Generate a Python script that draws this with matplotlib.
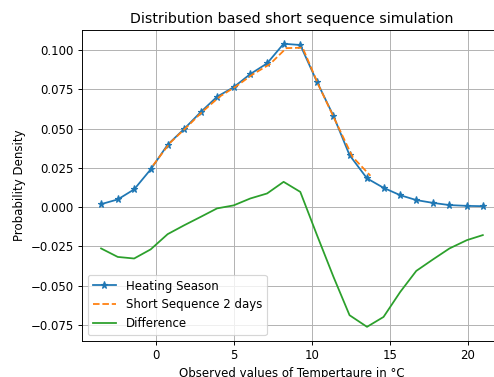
import matplotlib
matplotlib.use("Agg")
import matplotlib.pyplot as plt

# temperaturas observadas (grados C)
temp = [-3.53, -2.46, -1.41, -0.35, 0.74, 1.81, 2.86, 3.91, 4.97, 6.04, 7.12, 8.18,
        9.25, 10.32, 11.38, 12.41, 13.53, 14.59, 15.66, 16.69, 17.76, 18.82, 19.94, 20.96]
heating = [0.0019, 0.0049, 0.0113, 0.0240, 0.0397, 0.0499, 0.0605, 0.0703, 0.0763, 0.0847,
           0.0915, 0.1040, 0.1032, 0.0798, 0.0580, 0.0331, 0.0183, 0.0123, 0.0076, 0.0045,
           0.0027, 0.0013, 0.0008, 0.0006]
difference = [-0.0263, -0.0317, -0.0327, -0.0269, -0.0172, -0.0115, -0.0062, -0.0008, 0.0011,
              0.0055, 0.0087, 0.0161, 0.0097, -0.0178, -0.0444, -0.0688, -0.0762, -0.0699,
              -0.0540, -0.0406, -0.0333, -0.0263, -0.0210, -0.0178]

# secuencia corta de 2 dias
temp_short = [-0.2, 0.9, 1.95, 3.0, 4.1, 5.15, 6.2, 7.3, 8.35, 9.4, 10.45, 11.5, 12.6, 13.75]
short_seq = [0.0265, 0.0410, 0.0508, 0.0610, 0.0705, 0.0770, 0.0845, 0.0910, 0.1012, 0.1015,
             0.0770, 0.0550, 0.0320, 0.0200]

dpi = 85
fig = plt.figure(figsize=(494 / dpi, 377 / dpi), dpi=dpi)
ax = fig.add_axes([0.166, 0.0955, 0.850, 0.826])

ax.plot(temp, heating, marker='*', label='Heating Season')
ax.plot(temp_short, short_seq, linestyle='--', label='Short Sequence 2 days')
ax.plot(temp, difference, label='Difference')

ax.set_title('Distribution based short sequence simulation')
ax.set_xlabel('Observed values of Tempertaure in °C')
ax.set_ylabel('Probability Density')
ax.set_xticks([0, 5, 10, 15, 20])
ax.grid(True)
ax.legend(loc='lower left')

fig.savefig('out.png', dpi=dpi)
